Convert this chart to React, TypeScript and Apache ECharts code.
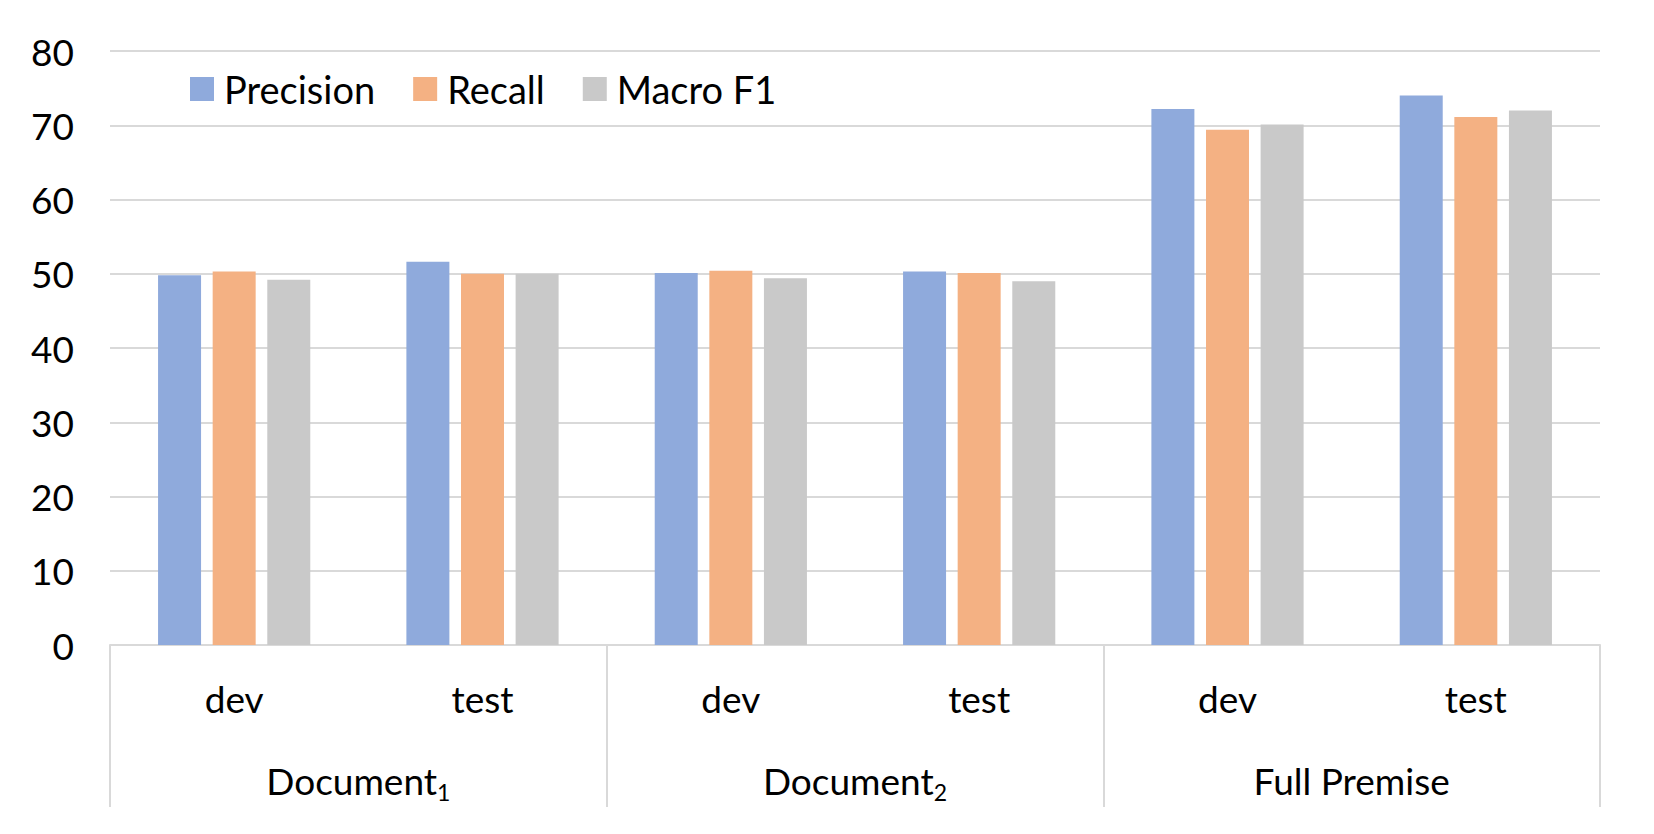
import React, { useEffect, useRef } from "react";
import * as echarts from "echarts";

const subCategories = ["dev", "test", "dev", "test", "dev", "test"];
const groupNames = ["Document", "Document", "Full Premise"];
const groupSubscripts = ["1", "2", ""];
const seriesNames = ["Precision", "Recall", "Macro F1"];
const precision = [49.8, 51.6, 50.1, 50.3, 72.2, 74.0];
const recall = [50.3, 50.0, 50.4, 50.1, 69.4, 71.1];
const macroF1 = [49.2, 50.0, 49.4, 49.0, 70.1, 72.0];
const yTicks = [0, 10, 20, 30, 40, 50, 60, 70, 80];

const colors = ["#8FAADC", "#F4B183", "#C9C9C9"];
const FONT = "Lato";

export default function App() {
  const ref = useRef<HTMLDivElement>(null);
  useEffect(() => {
    if (!ref.current) return;
    const chart = echarts.init(ref.current, undefined, { renderer: "svg" });
    const groupLabels = groupNames.map((n, i) =>
      groupSubscripts[i] ? `{a|${n}}{s|${groupSubscripts[i]}}` : `{a|${n}}`
    );
    const values = [precision, recall, macroF1];
    chart.setOption({
      animation: false,
      textStyle: { fontFamily: FONT },
      color: colors,
      legend: {
        data: seriesNames,
        left: 190,
        top: 70,
        padding: 0,
        itemWidth: 24,
        itemHeight: 24,
        itemGap: 38,
        icon: "rect",
        textStyle: { fontSize: 38, color: "#000", fontFamily: FONT, padding: [0, 0, 0, 5] },
      },
      grid: { left: 110, right: 54, top: 51, bottom: 189, containLabel: false },
      xAxis: [
        {
          type: "category",
          data: subCategories,
          axisLine: { show: true, lineStyle: { color: "#d9d9d9", width: 2 } },
          axisTick: { show: false },
          axisLabel: { fontSize: 37, color: "#000", margin: 35, fontFamily: FONT },
        },
        {
          type: "category",
          data: groupLabels,
          position: "bottom",
          axisLine: { show: false },
          axisTick: { show: true, length: 162, lineStyle: { color: "#d9d9d9", width: 2 } },
          axisLabel: {
            margin: 112,
            color: "#000",
            fontFamily: FONT,
            rich: {
              a: { fontSize: 37, lineHeight: 46, color: "#000", fontFamily: FONT },
              s: { fontSize: 23, lineHeight: 20, verticalAlign: "bottom", color: "#000", fontFamily: FONT },
            },
          },
        },
      ],
      yAxis: {
        type: "value",
        min: yTicks[0],
        max: yTicks[yTicks.length - 1],
        interval: 10,
        axisLine: { show: false },
        axisTick: { show: false },
        axisLabel: { fontSize: 37, color: "#000", margin: 36, fontFamily: FONT },
        splitLine: { lineStyle: { color: "#d9d9d9", width: 2 } },
      },
      series: seriesNames.map((name, i) => ({
        name,
        type: "bar",
        xAxisIndex: 0,
        data: values[i],
        barWidth: 43,
        barGap: "27%",
        itemStyle: { color: colors[i] },
      })),
    });
    return () => chart.dispose();
  }, []);
  return (
    <div
      ref={ref}
      style={{ position: "absolute", left: 0, top: 0, width: 1654, height: 834 }}
    />
  );
}
